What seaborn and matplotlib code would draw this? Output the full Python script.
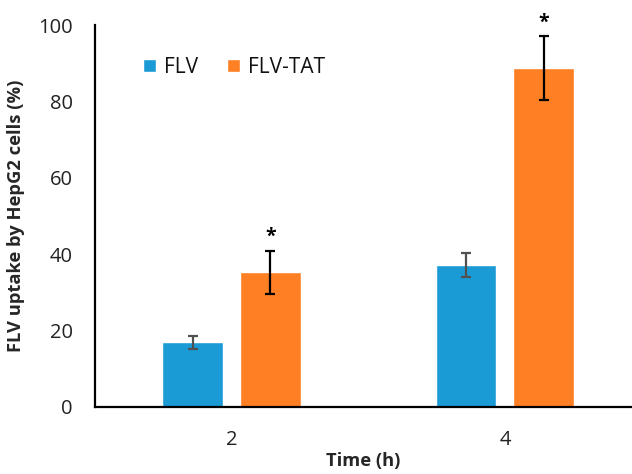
import matplotlib
matplotlib.use("Agg")
import matplotlib.pyplot as plt
import seaborn as sns
import pandas as pd
import numpy as np

# Data
times = ["2", "4"]
groups = ["FLV", "FLV-TAT"]
flv_mean = [16.9, 37.2]
flv_err = [1.75, 3.2]
tat_mean = [35.2, 88.8]
tat_err = [5.7, 8.3]
yticks = [0, 20, 40, 60, 80, 100]

colors = {"FLV": "#1B9BD6", "FLV-TAT": "#FF7F24"}
err_colors = {"FLV": "#505050", "FLV-TAT": "#000000"}

df = pd.DataFrame({
    "Time": times * 2,
    "Group": [groups[0]] * 2 + [groups[1]] * 2,
    "Value": flv_mean + tat_mean,
    "Err": flv_err + tat_err,
})

sns.set_style("white")
plt.rcParams["font.family"] = ["Open Sans", "DejaVu Sans"]

fig = plt.figure(figsize=(6.32, 4.74), dpi=100)
ax = fig.add_axes([0.150, 0.142, 0.850, 0.805])

sns.barplot(data=df, x="Time", y="Value", hue="Group", order=times, hue_order=groups,
            palette=colors, width=0.57, gap=0.22, errorbar=None, saturation=1,
            ax=ax, legend=True)

# Error bars and asterisks from the bar patches
bars = [p for p in ax.patches if p.get_height() > 0]
for p in bars:
    xc = p.get_x() + p.get_width() / 2
    h = p.get_height()
    for _, row in df.iterrows():
        if abs(row["Value"] - h) < 1e-6:
            g = row["Group"]
            e = row["Err"]
            ax.errorbar(xc, h, yerr=e, fmt="none", ecolor=err_colors[g],
                        elinewidth=1.6, capsize=3.5, capthick=1.6, zorder=5)
            if g == "FLV-TAT":
                ax.text(xc, h + e + 1.0, "*", ha="center", va="bottom",
                        fontsize=14, fontweight="bold", color="black")
            break

ax.set_ylim(0, 100)
ax.set_xlim(-0.5, 1.465)
ax.set_yticks(yticks)
ax.set_yticklabels([str(t) for t in yticks])
ax.tick_params(axis="both", length=0, labelsize=14.5, colors="#222222")
ax.tick_params(axis="y", pad=16)
ax.tick_params(axis="x", pad=17)

ax.set_xlabel("Time (h)", fontsize=13.2, fontweight="bold", labelpad=1.5)
ax.set_ylabel("FLV uptake by HepG2 cells (%)", fontsize=13.2, fontweight="bold", labelpad=9)

for s in ["top", "right"]:
    ax.spines[s].set_visible(False)
for s in ["left", "bottom"]:
    ax.spines[s].set_color("black")
    ax.spines[s].set_linewidth(1.6)

leg = ax.legend(loc="upper left", bbox_to_anchor=(0.055, 0.965), ncol=2, frameon=False,
                fontsize=15, handlelength=0.6, handleheight=0.6, handletextpad=0.4,
                columnspacing=1.4)
for t in leg.get_texts():
    t.set_color("#111111")

fig.savefig("out.png", dpi=100)
